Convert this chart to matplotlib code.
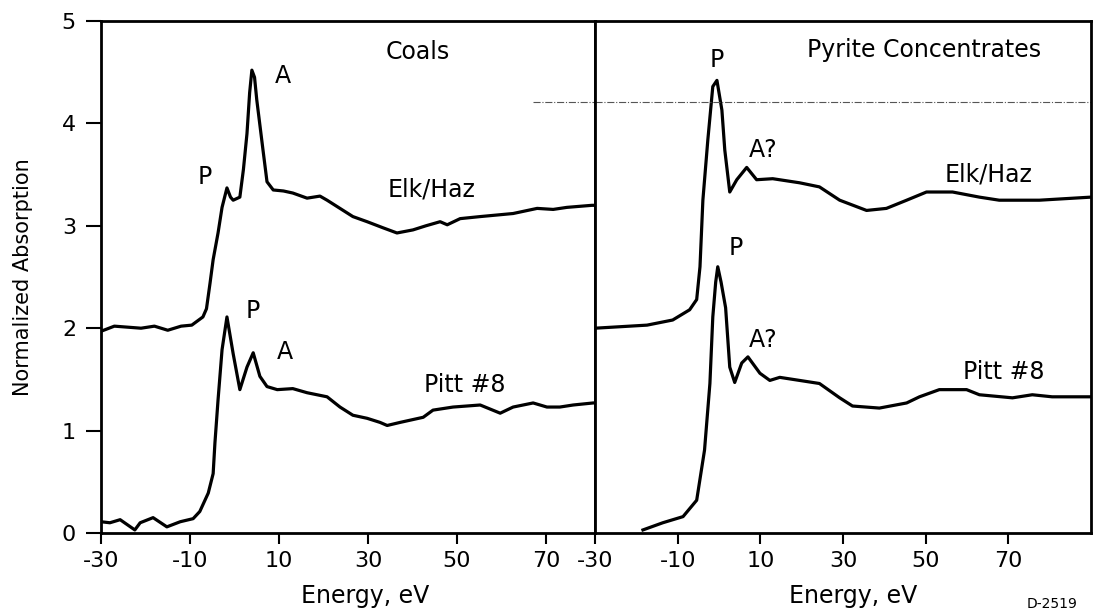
import matplotlib
matplotlib.use('Agg')
import matplotlib.pyplot as plt

plt.rcParams['font.family'] = ['DejaVu Sans']
plt.rcParams['axes.unicode_minus'] = False

# Coals panel (left)
coal_elk_x = [-30, -27, -24, -21, -18, -15, -12, -9.6, -7.1, -6.3, -5.5, -4.8, -3.7, -2.8, -1.7,
              -0.9, -0.3, 1.2, 2.0, 2.8, 3.4, 3.9, 4.5, 5.0, 6.4, 7.3, 8.7, 11, 13.1, 16.3, 19.2,
              20.8, 23.7, 26.6, 29.8, 33.4, 36.5, 40.1, 43, 46.2, 47.8, 50.7, 55.2, 62.6, 68,
              71.6, 74.7, 80.3, 81]
coal_elk_y = [1.97, 2.02, 2.01, 2.0, 2.02, 1.98, 2.02, 2.03, 2.11, 2.19, 2.44, 2.67, 2.93, 3.18, 3.37,
              3.28, 3.25, 3.28, 3.55, 3.9, 4.3, 4.52, 4.45, 4.23, 3.74, 3.43, 3.35, 3.34, 3.32, 3.27, 3.29,
              3.25, 3.17, 3.09, 3.04, 2.98, 2.93, 2.96, 3.0, 3.04, 3.01, 3.07, 3.09, 3.12, 3.17,
              3.16, 3.18, 3.2, 3.2]

coal_pitt_x = [-30, -28, -25.7, -22.4, -21.2, -18.3, -15.2, -12.2, -9.3, -7.8, -5.9, -4.8, -4.4, -3.7,
               -2.8, -1.7, -0.3, 1.2, 2.8, 4.2, 5.7, 7.3, 9.6, 13.1, 16.3, 20.8, 23.7, 26.6, 29.8,
               32.7, 34.3, 37.2, 42.4, 44.6, 49.1, 55.2, 59.7, 62.6, 67.1, 70.2, 73.1, 76.1, 80.6, 81]
coal_pitt_y = [0.11, 0.10, 0.13, 0.03, 0.10, 0.15, 0.06, 0.11, 0.14, 0.21, 0.39, 0.58, 0.88, 1.30,
               1.79, 2.11, 1.75, 1.40, 1.62, 1.76, 1.53, 1.43, 1.40, 1.41, 1.37, 1.33, 1.23, 1.15, 1.12,
               1.08, 1.05, 1.08, 1.13, 1.20, 1.23, 1.25, 1.17, 1.23, 1.27, 1.23, 1.23, 1.25, 1.27, 1.27]

# Pyrite concentrates panel (right)
pyr_elk_x = [-30, -17.4, -11.2, -7.1, -5.4, -4.6, -3.9, -2.7, -1.5, -0.5, 0.7, 1.4, 2.6, 4.3, 6.7,
             9.1, 13, 19.5, 24.3, 29.2, 35.7, 40.5, 45.4, 50.2, 56.5, 63, 67.8, 77.5, 90]
pyr_elk_y = [2.0, 2.03, 2.08, 2.18, 2.28, 2.6, 3.25, 3.84, 4.36, 4.42, 4.13, 3.74, 3.33, 3.45, 3.57,
             3.45, 3.46, 3.42, 3.38, 3.25, 3.15, 3.17, 3.25, 3.33, 3.33, 3.28, 3.25, 3.25, 3.28]

pyr_pitt_x = [-18.4, -13.6, -8.7, -5.4, -3.5, -2.2, -1.5, -0.8, -0.3, 0.5, 1.6, 2.6, 3.8, 5.5, 7.0,
              9.9, 12.3, 14.7, 19.5, 24.3, 29.2, 32.3, 38.8, 45.4, 48.5, 53.3, 59.9, 63, 71, 75.8,
              80.6, 90]
pyr_pitt_y = [0.03, 0.10, 0.16, 0.32, 0.81, 1.46, 2.11, 2.45, 2.6, 2.45, 2.2, 1.62, 1.47, 1.66, 1.72,
              1.56, 1.49, 1.52, 1.49, 1.46, 1.32, 1.24, 1.22, 1.27, 1.33, 1.40, 1.40, 1.35, 1.32, 1.35,
              1.33, 1.33]

# faint dash-dot scan line across the top
scan_y = 4.21
scan_left_x = [67, 81]
scan_right_x = [-30, 90]

tick_vals = [-30, -10, 10, 30, 50, 70]
tick_labels = ['-30', '-10', '10', '30', '50', '70']
y_ticks = [0, 1, 2, 3, 4, 5]

W, H = 1094, 612
fig = plt.figure(figsize=(W / 100, H / 100), dpi=100)
bottom = 1 - 533 / H
height = (533 - 21) / H
ax1 = fig.add_axes([101 / W, bottom, (595 - 101) / W, height])
ax2 = fig.add_axes([595 / W, bottom, (1091 - 595) / W, height], sharey=ax1)

lw = 2.3
ax1.plot(coal_elk_x, coal_elk_y, color='black', lw=lw)
ax1.plot(coal_pitt_x, coal_pitt_y, color='black', lw=lw)
ax2.plot(pyr_elk_x, pyr_elk_y, color='black', lw=lw)
ax2.plot(pyr_pitt_x, pyr_pitt_y, color='black', lw=lw)
ax1.plot(scan_left_x, [scan_y, scan_y], color='#555555', lw=0.8, ls='-.')
ax2.plot(scan_right_x, [scan_y, scan_y], color='#555555', lw=0.8, ls='-.')

ax1.set_xlim(-30, 81)
ax2.set_xlim(-30, 90)
ax1.set_ylim(0, 5)

for ax in (ax1, ax2):
    ax.set_xticks(tick_vals)
    ax.set_xticklabels(tick_labels)
    ax.tick_params(axis='x', direction='out', length=8, width=1.5, labelsize=16, pad=5)
    for s in ax.spines.values():
        s.set_linewidth(2)
        s.set_color('black')

ax1.set_yticks(y_ticks)
ax1.tick_params(axis='y', direction='out', length=11, width=1.5, labelsize=16, pad=7)
ax2.tick_params(axis='y', left=False, labelleft=False)

ax1.set_ylabel('Normalized Absorption', fontsize=15)
ax1.yaxis.set_label_coords(-0.158, 0.5)
ax1.yaxis.label.set_va('center')
for ax, xc in ((ax1, (365 - 101) / 494), (ax2, (853 - 595) / 496)):
    ax.set_xlabel('Energy, eV', fontsize=17)
    ax.xaxis.set_label_coords(xc, -0.123)
    ax.xaxis.label.set_va('center')

fs = 17
ax1.text(41.2, 4.7, 'Coals', fontsize=fs, ha='center', va='center')
ax1.text(-6.6, 3.48, 'P', fontsize=fs, ha='center', va='center')
ax1.text(10.9, 4.46, 'A', fontsize=fs, ha='center', va='center')
ax1.text(44.2, 3.35, 'Elk/Haz', fontsize=fs, ha='center', va='center')
ax1.text(4.2, 2.17, 'P', fontsize=fs, ha='center', va='center')
ax1.text(11.3, 1.77, 'A', fontsize=fs, ha='center', va='center')
ax1.text(51.8, 1.45, 'Pitt #8', fontsize=fs, ha='center', va='center')

ax2.text(49.7, 4.72, 'Pyrite Concentrates', fontsize=fs, ha='center', va='center')
ax2.text(-0.5, 4.62, 'P', fontsize=fs, ha='center', va='center')
ax2.text(10.6, 3.74, 'A?', fontsize=fs, ha='center', va='center')
ax2.text(65.2, 3.5, 'Elk/Haz', fontsize=fs, ha='center', va='center')
ax2.text(4.1, 2.78, 'P', fontsize=fs, ha='center', va='center')
ax2.text(10.6, 1.88, 'A?', fontsize=fs, ha='center', va='center')
ax2.text(68.8, 1.57, 'Pitt #8', fontsize=fs, ha='center', va='center')

fig.text(1052 / W, 1 - 604 / H, 'D-2519', fontsize=10, ha='center', va='center')

fig.savefig('out.png', dpi=100)
